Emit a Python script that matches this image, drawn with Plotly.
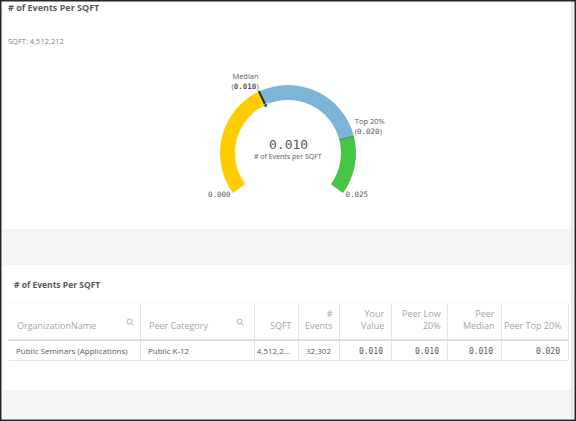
import plotly.graph_objects as go

W, H = 576, 421

# gauge data
gauge_min = 0.000
gauge_max = 0.025
your_value = 0.010
peer_low = 0.010
peer_median = 0.010
peer_top = 0.020
seg_start = [0.000, 0.010, 0.020]
seg_end = [0.010, 0.020, 0.025]
seg_colors = ["#FFCC00", "#7DB5D9", "#46C646"]

# table data
org_names = ["Public Seminars (Applications)"]
peer_categories = ["Public K-12"]
sqft_values = [4512212]
event_counts = [32302]
your_values = [0.010]
peer_low_values = [0.010]
peer_median_values = [0.010]
peer_top_values = [0.020]
col_headers = ["OrganizationName", "Peer Category", "SQFT", "#<br>Events",
               "Your<br>Value", "Peer Low<br>20%", "Peer<br>Median", "Peer Top 20%"]
col_widths = [132, 114, 44, 41, 52, 56, 54, 67]
col_align = ["left", "left"] + ["right"] * 6

SWEEP = 252.0
def deg(v):
    return (v - gauge_min) / (gauge_max - gauge_min) * SWEEP

def px(x):
    return x / W
def py(y):
    return 1 - y / H

MONO = "DejaVu Sans Mono"
SANS = "Open Sans"
GREY = "#595959"

fig = go.Figure()

# gauge ring: radial units are pixels past the hole (hole radius 40px)
fig.add_trace(go.Barpolar(
    r=[15] * len(seg_start), base=[13] * len(seg_start),
    theta=[(deg(a) + deg(b)) / 2 for a, b in zip(seg_start, seg_end)],
    width=[deg(b) - deg(a) for a, b in zip(seg_start, seg_end)],
    marker=dict(color=seg_colors, line=dict(width=0)),
    hoverinfo="skip", showlegend=False))

# top 20% divider
fig.add_trace(go.Scatterpolar(
    r=[13, 28], theta=[deg(peer_top)] * 2, mode="lines",
    line=dict(color="#5a7f5a", width=1), hoverinfo="skip", showlegend=False))

# median / value needle
fig.add_trace(go.Scatterpolar(
    r=[28.5, 12.5], theta=[deg(peer_median)] * 2, mode="lines+markers",
    line=dict(color="#2b2b2b", width=2),
    marker=dict(size=[0, 6], color="#2b2b2b", symbol="triangle-up",
                angleref="previous"),
    hoverinfo="skip", showlegend=False, cliponaxis=False))

# labels
fig.add_trace(go.Scatterpolar(
    r=[29, 29, 31, 31],
    theta=[deg(peer_median), deg(peer_top), deg(gauge_min), deg(gauge_max)],
    mode="text",
    text=["Median<br>(<b><span style='font-family:%s'>%.3f</span></b>)" % (MONO, peer_median),
          "Top 20%%<br>(<span style='font-family:%s'>%.3f</span>)" % (MONO, peer_top),
          "<span style='font-family:%s'>%.3f</span>" % (MONO, gauge_min),
          "<span style='font-family:%s'>%.3f</span>" % (MONO, gauge_max)],
    textposition=["top left", "top right", "middle left", "middle right"],
    textfont=dict(family=SANS, size=7.5, color=GREY),
    hoverinfo="skip", showlegend=False, cliponaxis=False))

cx, cy, R = 288, 153, 80
fig.update_layout(polar=dict(
    domain=dict(x=[px(cx - R), px(cx + R)], y=[py(cy + R), py(cy - R)]),
    hole=0.5, bgcolor="rgba(0,0,0,0)",
    radialaxis=dict(range=[0, 40], visible=False),
    angularaxis=dict(rotation=216, direction="clockwise", visible=False)))

# table
def fmt3(vals):
    return ["%.3f" % v for v in vals]

sqft_txt = ["{:,}".format(v) for v in sqft_values]
sqft_txt = [t[:7] + "…" if len(t) > 8 else t for t in sqft_txt]

tx0, tx1, ty0 = 8, 568, 303
fig.add_trace(go.Table(
    domain=dict(x=[px(tx0), px(tx1)], y=[py(380), py(ty0)]),
    columnwidth=col_widths,
    header=dict(values=[""] * len(col_headers),
                fill_color="white", line=dict(color="#e6e6e6", width=1), height=37),
    cells=dict(values=[org_names, peer_categories, sqft_txt,
                       ["{:,}".format(v) for v in event_counts],
                       fmt3(your_values), fmt3(peer_low_values),
                       fmt3(peer_median_values), fmt3(peer_top_values)],
               align=col_align,
               fill_color="white", line=dict(color="#e6e6e6", width=1),
               font=dict(family=[SANS] * 4 + [MONO] * 4,
                         size=8, color=GREY), height=20)))

shapes = [
    # grey bands
    dict(type="rect", x0=px(3), x1=px(573), y0=py(265), y1=py(229),
         fillcolor="#f5f5f5", line_width=0, layer="below"),
    dict(type="rect", x0=px(3), x1=px(573), y0=py(418), y1=py(390),
         fillcolor="#f5f5f5", line_width=0, layer="below"),
    dict(type="rect", x0=px(571), x1=px(573.5), y0=py(418), y1=py(1),
         fillcolor="#e6e6e6", line_width=0, layer="below"),
    # hide table outer left / top edge
    dict(type="line", x0=px(tx0), x1=px(tx0), y0=py(302), y1=py(362),
         line=dict(color="white", width=2)),
    dict(type="line", x0=px(tx0), x1=px(tx1), y0=py(ty0), y1=py(ty0),
         line=dict(color="white", width=1.5)),
    # header underline
    dict(type="line", x0=px(tx0), x1=px(tx1), y0=py(340), y1=py(340),
         line=dict(color="#d0d0d0", width=1)),
    # frame
    dict(type="rect", x0=0, x1=1, y0=0, y1=1,
         line=dict(color="#262626", width=3), fillcolor="rgba(0,0,0,0)"),
]
# search icons in the header
for ix in [130, 240]:
    shapes.append(dict(type="circle", x0=px(ix - 3), x1=px(ix + 2), y0=py(324), y1=py(319),
                       line=dict(color="#b0b0b0", width=1)))
    shapes.append(dict(type="line", x0=px(ix + 1.5), x1=px(ix + 3.5), y0=py(323.5), y1=py(325.5),
                       line=dict(color="#b0b0b0", width=1)))

annotations = [
    dict(x=px(6), y=py(8), text="<b># of Events Per SQFT</b>", showarrow=False,
         xanchor="left", yanchor="middle", font=dict(family=SANS, size=9, color=GREY)),
    dict(x=px(6), y=py(41), text="SQFT: 4,512,212", showarrow=False,
         xanchor="left", yanchor="middle", font=dict(family=SANS, size=7.5, color="#7f7f7f")),
    dict(x=px(12), y=py(284), text="<b># of Events Per SQFT</b>", showarrow=False,
         xanchor="left", yanchor="middle", font=dict(family=SANS, size=8.5, color=GREY)),
    dict(x=px(cx), y=py(144), text="%.3f" % your_value, showarrow=False,
         xanchor="center", yanchor="middle", font=dict(family=MONO, size=13, color=GREY)),
    dict(x=px(cx), y=py(156), text="# of Events per SQFT", showarrow=False,
         xanchor="center", yanchor="middle", font=dict(family=SANS, size=7, color=GREY)),
]

# header labels, each line aligned inside its column
left = tx0
for label, w, al in zip(col_headers, col_widths, col_align):
    if al == "left":
        ax, xa = left + 7, "left"
    else:
        ax, xa = left + w - 4.5, "right"
    annotations.append(dict(x=px(ax), y=py(334), text=label, showarrow=False,
                            xanchor=xa, yanchor="bottom", align=al,
                            font=dict(family=SANS, size=9, color="#a6a6a6")))
    left += w

fig.update_layout(width=W, height=H, margin=dict(l=0, r=0, t=0, b=0),
                  paper_bgcolor="white", plot_bgcolor="white",
                  shapes=shapes, annotations=annotations, showlegend=False)

fig.write_html("out.html", config={"displayModeBar": False},
               post_script="document.body.style.margin='0px';")
